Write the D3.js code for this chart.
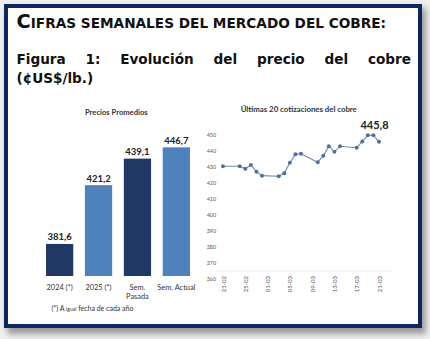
<!DOCTYPE html>
<html><head><meta charset="utf-8">
<script src="https://cdn.jsdelivr.net/npm/d3@7"></script>
<style>
html,body{margin:0;padding:0;background:#f0f0f0;}
svg{display:block;}
</style></head>
<body>
<svg id="c" width="430" height="339"></svg>
<script>
// ---- data ----
const barCategories = ["2024 (*)", "2025 (*)", "Sem. Pasada", "Sem. Actual"];
const barValues = [381.6, 421.2, 439.1, 446.7];
const barColors = ["#1f3864", "#4f81bd", "#1f3864", "#4f81bd"];

const lineDates = ["2025-02-21","2025-02-24","2025-02-25","2025-02-26","2025-02-27","2025-02-28",
  "2025-03-03","2025-03-04","2025-03-05","2025-03-06","2025-03-07",
  "2025-03-10","2025-03-11","2025-03-12","2025-03-13","2025-03-14",
  "2025-03-17","2025-03-18","2025-03-19","2025-03-20","2025-03-21"];
const lineValues = [430.5, 430.5, 428.9, 431.2, 427.1, 424.6,
  424.2, 426.1, 432.7, 437.9, 438.3,
  433.0, 437.0, 443.0, 439.5, 443.0,
  442.0, 446.0, 449.8, 449.8, 445.8];
const dateTickLabels = ["21-02","25-02","01-03","05-03","09-03","13-03","17-03","21-03"];
const yTicks = [360,370,380,390,400,410,420,430,440,450];

const fmt = d3.formatLocale({decimal:",", thousands:".", grouping:[3], currency:["",""]}).format(".1f");
const parse = d3.timeParse("%Y-%m-%d");
const svg = d3.select("#c");

// ---- frame ----
const defs = svg.append("defs");
const f = defs.append("filter").attr("id","sh").attr("x","-10%").attr("y","-10%").attr("width","120%").attr("height","125%");
f.append("feGaussianBlur").attr("stdDeviation", 3);
svg.append("rect").attr("x",7).attr("y",8).attr("width",419).attr("height",326).attr("fill","#9a9a9a").attr("filter","url(#sh)");
svg.append("rect").attr("x",6).attr("y",6).attr("width",414).attr("height",320)
  .attr("fill","#ffffff").attr("stroke","#0e2664").attr("stroke-width",4);

// ---- header ----
const h1 = svg.append("text").attr("x",16.5).attr("y",28).attr("font-family","DejaVu Sans").attr("font-weight","bold").attr("fill","#111");
h1.append("tspan").attr("font-size",16).text("C");
h1.append("tspan").attr("font-size",11.3).text("IFRAS SEMANALES DEL MERCADO DEL COBRE:");
function fitWidth(sel, target){
  const w = sel.node().getComputedTextLength();
  sel.selectAll("tspan").each(function(){
    const t = d3.select(this); t.attr("font-size", +t.attr("font-size")*target/w);
  });
}
fitWidth(h1, 370);

// justified line: words placed individually
const titleWords = "Figura 1: Evolución del precio del cobre".split(" ");
const l1 = svg.append("g").attr("font-family","DejaVu Sans").attr("font-weight","bold").attr("font-size",13.6).attr("fill","#111");
const wt = l1.selectAll("text").data(titleWords).join("text").attr("y",64).text(d=>d);
const widths = wt.nodes().map(n=>n.getBBox().width);
const x0 = 16.5, x1 = 411;
const gap = (x1 - x0 - d3.sum(widths)) / (titleWords.length - 1);
let cx = x0;
wt.each(function(d,i){ d3.select(this).attr("x", cx); cx += widths[i] + gap; });
svg.append("text").attr("x",16.5).attr("y",82.5).attr("font-family","DejaVu Sans").attr("font-weight","bold")
  .attr("font-size",13.6).attr("fill","#111").text("(¢US$/lb.)");

const cf = "Lato, 'Open Sans', sans-serif";

// ---- bar chart ----
const xb = d3.scaleBand().domain(barCategories).range([40.2,195.8]).paddingInner(0.3).paddingOuter(0.15);
const yb = d3.scaleLinear().domain([360,460]).range([276,127.6]);
svg.append("text").attr("x",116.3).attr("y",115).attr("text-anchor","middle").attr("font-family",cf)
  .attr("font-weight","bold").attr("font-size",7.6).attr("fill","#333").text("Precios Promedios");
const bars = svg.append("g");
bars.selectAll("rect").data(barValues).join("rect")
  .attr("x",(d,i)=>xb(barCategories[i])).attr("width",xb.bandwidth())
  .attr("y",d=>yb(d)).attr("height",d=>yb(360)-yb(d)).attr("fill",(d,i)=>barColors[i]);
bars.selectAll("text.v").data(barValues).join("text").attr("class","v")
  .attr("x",(d,i)=>xb(barCategories[i])+xb.bandwidth()/2).attr("y",d=>yb(d)-3.5)
  .attr("text-anchor","middle").attr("font-family",cf).attr("font-weight","bold").attr("font-size",9.5)
  .attr("fill","#222").text(d=>fmt(d));
const catLines = {"Sem. Pasada":["Sem.","Pasada"]};
barCategories.forEach(c=>{
  const lines = catLines[c] || [c];
  const t = svg.append("text").attr("text-anchor","middle").attr("font-family",cf).attr("font-size",7.4).attr("fill","#333");
  lines.forEach((s,k)=>t.append("tspan").attr("x",xb(c)+xb.bandwidth()/2).attr("y",289.5+k*9).text(s));
});
const fn = svg.append("text").attr("x",51.5).attr("y",311).attr("font-family",cf).attr("font-size",7).attr("fill","#333");
fn.append("tspan").text("(*) A ");
fn.append("tspan").attr("font-size",5).text("igual");
fn.append("tspan").text(" fecha de cada año");

// ---- line chart ----
const dates = lineDates.map(parse);
const xl = d3.scaleTime().domain([parse("2025-02-21"), parse("2025-03-21")]).range([223,379]);
const yl = d3.scaleLinear().domain([360,450]).range([279,135]);
svg.append("text").attr("x",298.7).attr("y",112).attr("text-anchor","middle").attr("font-family",cf)
  .attr("font-weight","bold").attr("font-size",7.8).attr("fill","#333").text("Últimas 20 cotizaciones del cobre");
const yAx = svg.append("g").attr("transform","translate(216,0)")
  .call(d3.axisLeft(yl).tickValues(yTicks).tickSize(0).tickPadding(0));
yAx.select(".domain").remove();
yAx.selectAll("text").attr("font-family",cf).attr("font-size",5.3).attr("fill","#555");

const tickDates = d3.range(dateTickLabels.length).map(i=>d3.timeDay.offset(parse("2025-02-21"), i*4));
const xAx = svg.append("g").attr("transform","translate(0,271)")
  .call(d3.axisBottom(xl).tickValues(tickDates).tickFormat((d,i)=>dateTickLabels[i]).tickSize(0));
xAx.select(".domain").attr("stroke","#ececec").attr("d","M215,0H392");
xAx.selectAll("text").attr("font-family",cf).attr("font-size",6).attr("fill","#555")
  .attr("transform","rotate(-90)").attr("text-anchor","end").attr("x",-5).attr("y",0).attr("dy","0.35em");

const pts = dates.map((d,i)=>({d, v: lineValues[i]}));
svg.append("path").datum(pts).attr("fill","none").attr("stroke","#6f88b0").attr("stroke-width",1.1)
  .attr("d", d3.line().x(p=>xl(p.d)).y(p=>yl(p.v)));
svg.append("g").selectAll("circle").data(pts).join("circle")
  .attr("cx",p=>xl(p.d)).attr("cy",p=>yl(p.v)).attr("r",2).attr("fill","#52709e");
const last = pts[pts.length-1];
svg.append("text").attr("x",xl(last.d)-4.5).attr("y",yl(last.v)-13).attr("text-anchor","middle")
  .attr("font-family",cf).attr("font-weight","bold").attr("font-size",11).attr("fill","#222").text(fmt(last.v));
</script>
</body></html>
